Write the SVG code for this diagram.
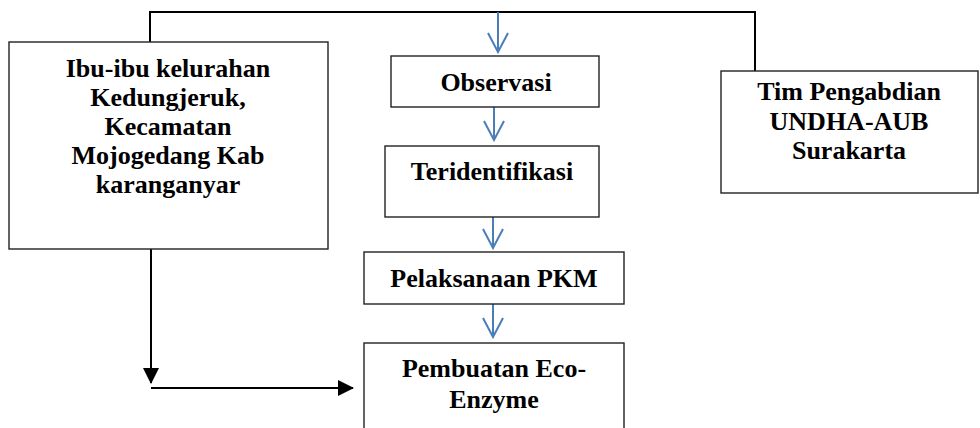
<svg xmlns="http://www.w3.org/2000/svg" width="980" height="428" viewBox="0 0 980 428">
<style>
.box{fill:#fff;stroke:#222;stroke-width:1.4}
.t{font-family:"Liberation Serif","Times New Roman",serif;font-weight:bold;font-size:26px;fill:#000;text-anchor:middle}
.bl{fill:none;stroke:#000;stroke-width:2}
.blue{fill:none;stroke:#4A7EBB;stroke-width:2}
</style>
<defs>
<marker id="ah" markerWidth="16" markerHeight="16" refX="15" refY="8" orient="auto" markerUnits="userSpaceOnUse">
<path d="M0,0 L16,8 L0,16 Z" fill="#000"/>
</marker>
<marker id="vb" markerWidth="22" markerHeight="24" refX="20" refY="11" orient="auto" markerUnits="userSpaceOnUse">
<path d="M1,1 L20,11 L1,21" fill="none" stroke="#4A7EBB" stroke-width="2"/>
</marker>
</defs>
<rect width="980" height="428" fill="#fff"/>
<g id="connectors">
<path class="bl" d="M150,42 V12 H755 V71"/>
<path class="bl" d="M151,249 V383" marker-end="url(#ah)"/>
<path class="bl" d="M151,388 H353" marker-end="url(#ah)"/>
<path class="blue" d="M498,12 V52" marker-end="url(#vb)"/>
<path class="blue" d="M494,107 V140" marker-end="url(#vb)"/>
<path class="blue" d="M493,217 V248" marker-end="url(#vb)"/>
<path class="blue" d="M493,304 V337" marker-end="url(#vb)"/>
</g>
<g id="ibu">
<rect class="box" x="9" y="42" width="319" height="207"/>
<text class="t" x="168" y="77">Ibu-ibu kelurahan</text>
<text class="t" x="168" y="106">Kedungjeruk,</text>
<text class="t" x="168" y="135">Kecamatan</text>
<text class="t" x="168" y="164">Mojogedang Kab</text>
<text class="t" x="168" y="193">karanganyar</text>
</g>
<g id="tim">
<rect class="box" x="721" y="71" width="257" height="122"/>
<text class="t" x="849" y="100">Tim Pengabdian</text>
<text class="t" x="849" y="130">UNDHA-AUB</text>
<text class="t" x="849" y="159">Surakarta</text>
</g>
<g id="observasi">
<rect class="box" x="391" y="56" width="208" height="51"/>
<text class="t" x="496" y="91">Observasi</text>
</g>
<g id="teridentifikasi">
<rect class="box" x="385" y="146" width="214" height="71"/>
<text class="t" x="492" y="180">Teridentifikasi</text>
</g>
<g id="pelaksanaan">
<rect class="box" x="364" y="252" width="260" height="52"/>
<text class="t" x="494" y="287">Pelaksanaan PKM</text>
</g>
<g id="pembuatan">
<rect class="box" x="364" y="343" width="260" height="90"/>
<text class="t" x="494" y="377">Pembuatan Eco-</text>
<text class="t" x="494" y="408">Enzyme</text>
</g>
</svg>
